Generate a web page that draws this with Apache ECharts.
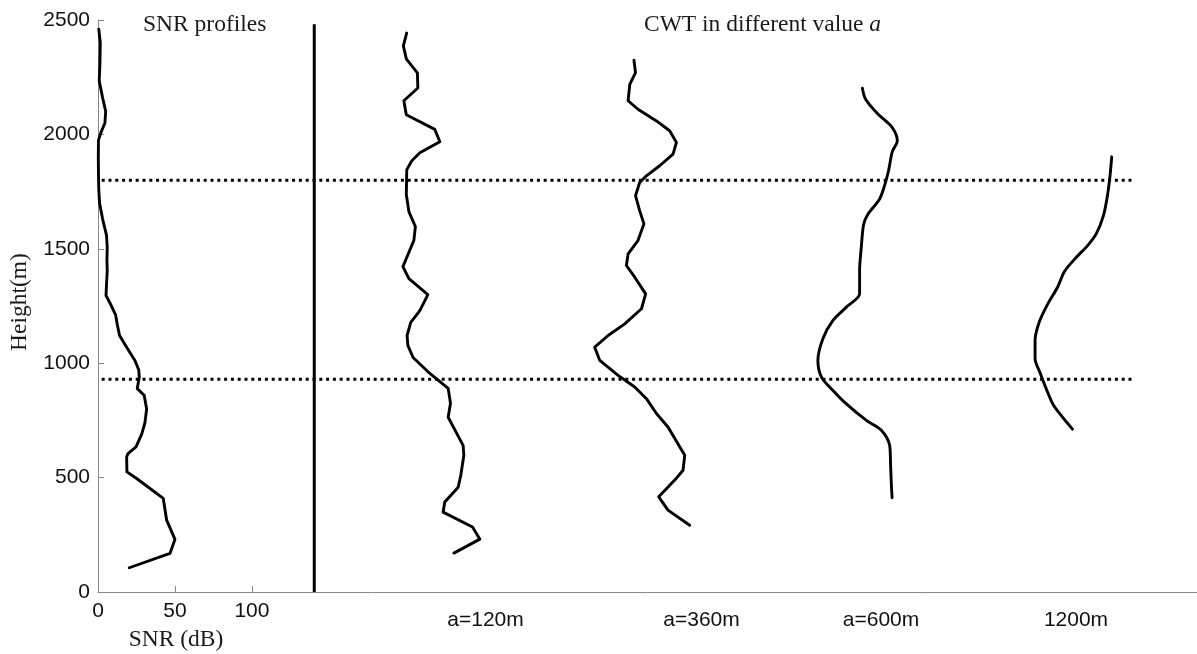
<!DOCTYPE html>
<html>
<head>
<meta charset="utf-8">
<script src="https://cdn.jsdelivr.net/npm/echarts@6/dist/echarts.min.js"></script>
<style>
html,body{margin:0;padding:0;background:#fff;}
#chart{width:1197px;height:654px;}
</style>
</head>
<body>
<div id="chart"></div>
<script>
// ---- data ----
const yTicks = [0, 500, 1000, 1500, 2000, 2500];
const xTicks = [0, 50, 100];
const panelTitles = ['SNR profiles', 'CWT in different value '];
const cwtLabels = ['a=120m', 'a=360m', 'a=600m', '1200m'];
const xAxisTitle = 'SNR (dB)';
const yAxisTitle = 'Height(m)';

// [SNR (dB) / offset, height (m)]
const snrProfile = [[0.5,2460],[1.5,2400],[1.2,2300],[0.8,2234],[3,2160],[5,2100],[4.5,2050],[2,2010],[0.3,1975],[0.2,1900],[0.3,1830],[0.5,1760],[1,1700],[3,1630],[5.5,1560],[6,1507],[5.8,1450],[6,1405],[5.5,1340],[5.2,1296],[8,1260],[11.5,1210],[12.5,1170],[14,1121],[19,1065],[24,1012],[26.5,970],[26.8,939],[25.5,889],[30,860],[31.6,800],[30.5,740],[28.4,690],[24.7,634],[19.5,605],[18.6,590],[18.8,525],[25.1,496],[42.4,409],[44.6,314],[47.9,263],[50,230],[46.8,169],[20.3,106]];
const cwtA120 = [[200.5,2443],[198.4,2387],[200.3,2330],[207.5,2269],[207.8,2203],[198.7,2147],[200.3,2086],[218.8,2022],[222.1,1968],[209.1,1920],[203.9,1885],[200.6,1846],[200.3,1737],[202.0,1662],[206.2,1597],[205.2,1536],[198.1,1422],[202.0,1370],[214.3,1300],[209.1,1230],[203.2,1178],[200.8,1121],[201.3,1078],[204.7,1025],[215.6,955],[227.5,890],[229.0,825],[227.5,764],[237.2,641],[237.7,598],[235.7,510],[234.0,458],[225.3,393],[224.2,349],[243.3,284],[248.1,231],[231.2,170]];
const cwtA360 = [[348.2,2324],[349.2,2270],[345.5,2219],[344.4,2147],[350.8,2110],[362.8,2059],[371.4,2016],[375.8,1965],[373.6,1914],[364.9,1863],[356.3,1819],[351.9,1790],[349.2,1732],[351.9,1667],[354.7,1609],[350.8,1536],[344.4,1478],[343.3,1427],[348.7,1376],[355.8,1303],[353.1,1238],[342.2,1172],[331.4,1121],[322.7,1070],[326.0,1012],[337.9,947],[348.7,896],[356.3,845],[362.8,780],[370.3,721],[381.2,598],[380.1,532],[374.7,489],[364.3,416],[370.3,358],[384.4,292]];
const cwtA600 = [[496.6,2202],[498.7,2154],[506.7,2089],[516.0,2030],[519.3,1972],[516.0,1924],[513.6,1841],[511.0,1776],[507.8,1718],[500.0,1649],[497.4,1606],[495.9,1507],[494.8,1405],[494.8,1303],[486.2,1245],[477.5,1187],[471.0,1108],[467.7,1012],[470.1,938],[477.5,881],[485.1,829],[499.2,750],[508.9,707],[514.3,641],[514.9,562],[515.4,474],[515.9,412]];
const cwtA1200 = [[658.6,1902],[657.6,1827],[656.0,1740],[653.2,1645],[648.5,1565],[642.9,1514],[635.5,1462],[627.9,1401],[623.4,1332],[616.9,1257],[611.4,1178],[608.8,1099],[608.8,1021],[611.9,960],[616.0,889],[620.8,816],[627.3,759],[633.1,712]];
const separatorX = 140.5;
const separatorTop = 2481;
const boundaryHeights = [1800, 930];
const boundaryXRange = [2.4, 672.7];

// ---- chart ----
const chart = echarts.init(document.getElementById('chart'), null, {renderer: 'canvas'});
const SERIF = '"Liberation Serif", "Times New Roman", serif';
const SANS = '"Liberation Sans", Arial, sans-serif';
const SERIF_SIZE = 23.5;

function curve(name, data, smooth) {
  return {
    name, type: 'line', data, showSymbol: false, smooth: smooth || false,
    lineStyle: {color: '#000', width: 2.9, join: 'round', cap: 'round'}, silent: true, animation: false, z: 3
  };
}

const series = [
  curve('SNR', snrProfile),
  curve('a=120m', cwtA120),
  curve('a=360m', cwtA360),
  curve('a=600m', cwtA600, 0.3),
  curve('1200m', cwtA1200, 0.3),
  {
    name: 'separator', type: 'line', showSymbol: false, animation: false, silent: true,
    data: [[separatorX, 0], [separatorX, separatorTop]],
    lineStyle: {color: '#000', width: 3}
  }
];
boundaryHeights.forEach((h, i) => {
  series.push({
    name: 'boundary' + i, type: 'line', showSymbol: false, animation: false, silent: true,
    data: [[boundaryXRange[0], h], [boundaryXRange[1], h]],
    lineStyle: {color: '#000', width: 3, type: [3, 3.8]}, z: 2
  });
});

const labelXs = [485.5, 701.5, 881, 1076];
const graphics = [
  {type: 'text', left: 143, top: 13, style: {text: panelTitles[0], font: SERIF_SIZE + 'px ' + SERIF, fill: '#1a1a1a'}},
  {type: 'text', left: 644, top: 13, style: {
    text: panelTitles[1] + '{i|a}', font: SERIF_SIZE + 'px ' + SERIF, fill: '#1a1a1a',
    rich: {i: {fontStyle: 'italic', fontFamily: SERIF, fontSize: SERIF_SIZE, fill: '#1a1a1a'}}
  }},
  {type: 'text', x: 176, y: 640, style: {text: xAxisTitle, font: SERIF_SIZE + 'px ' + SERIF, fill: '#1a1a1a', align: 'center', verticalAlign: 'middle'}},
  {type: 'text', x: 20, y: 302, rotation: Math.PI / 2, style: {text: yAxisTitle, font: SERIF_SIZE + 'px ' + SERIF, fill: '#1a1a1a', align: 'center', verticalAlign: 'middle'}}
];
cwtLabels.forEach((t, i) => {
  graphics.push({type: 'text', x: labelXs[i], y: 620, style: {text: t, font: '21px ' + SANS, fill: '#111', align: 'center', verticalAlign: 'middle'}});
});

chart.setOption({
  backgroundColor: '#fff',
  animation: false,
  grid: {left: 98, right: 0, top: 20, bottom: 62, containLabel: false},
  xAxis: {
    type: 'value', min: 0, max: 714,
    axisLine: {show: true, onZero: false, lineStyle: {color: '#888', width: 1}},
    axisTick: {show: true, inside: true, length: 6, customValues: xTicks, lineStyle: {color: '#888'}},
    axisLabel: {show: true, customValues: xTicks, margin: 9, fontSize: 21, fontFamily: SANS, color: '#111',
      formatter: v => String(v)},
    splitLine: {show: false}
  },
  yAxis: {
    type: 'value', min: 0, max: 2500, interval: 500,
    axisLine: {show: true, onZero: false, lineStyle: {color: '#888', width: 1}},
    axisTick: {show: true, inside: true, length: 6, lineStyle: {color: '#888'}},
    axisLabel: {show: true, margin: 8, fontSize: 21, fontFamily: SANS, color: '#111',
      customValues: yTicks, formatter: v => String(v)},
    splitLine: {show: false}
  },
  graphic: graphics,
  series
});
</script>
</body>
</html>
